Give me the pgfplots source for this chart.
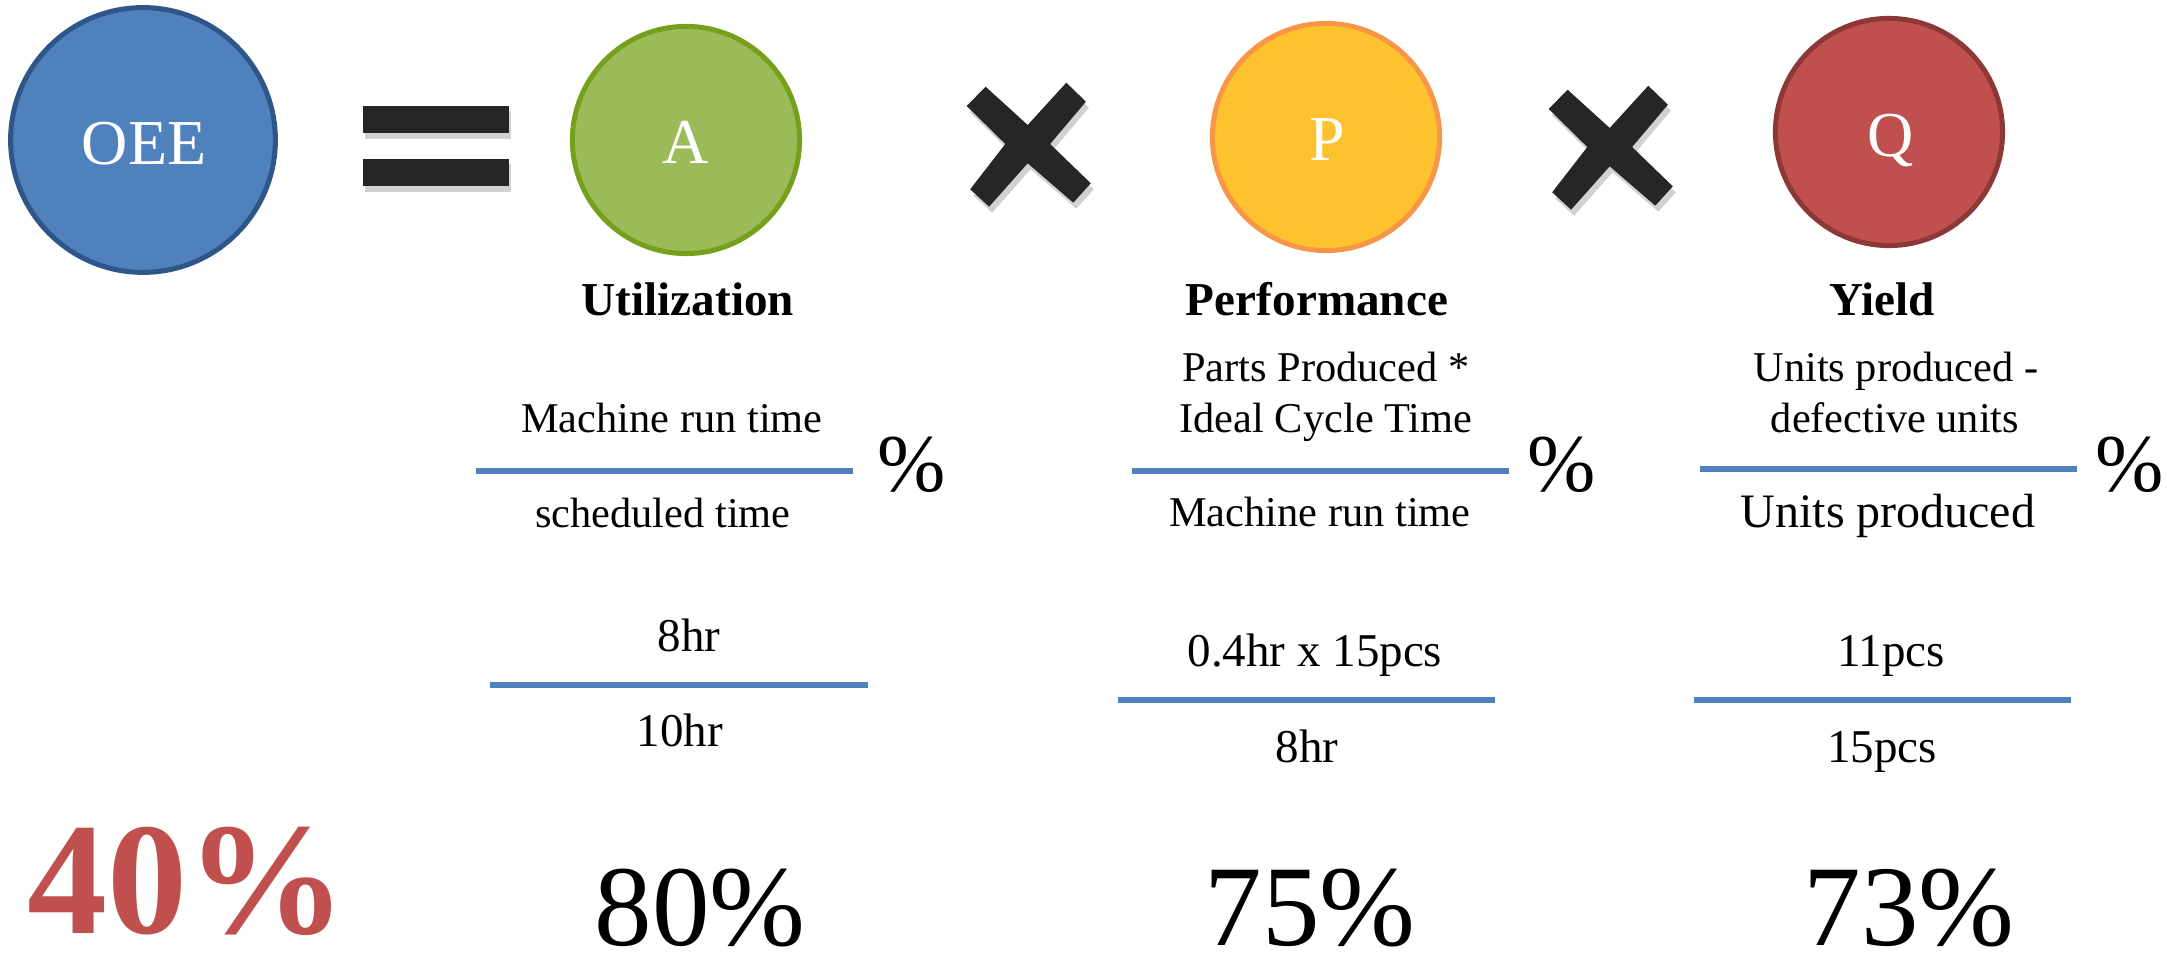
\documentclass[border=0pt]{standalone}
\usepackage{pgfplots}
\pgfplotsset{compat=1.18}
\usepackage{fontspec}
\setmainfont{Liberation Serif}
\definecolor{oeeblue}{HTML}{4F81BD}
\definecolor{oeeborder}{HTML}{2F5689}
\definecolor{agreen}{HTML}{9BBB59}
\definecolor{aborder}{HTML}{76A01C}
\definecolor{pyellow}{HTML}{FEC22F}
\definecolor{pborder}{HTML}{F79646}
\definecolor{qred}{HTML}{C0504D}
\definecolor{qborder}{HTML}{8C3836}
\definecolor{lineblue}{HTML}{4F81BD}
\definecolor{xdark}{HTML}{262626}
\newcommand{\fs}[1]{\fontsize{#1}{#1}\selectfont}
\begin{document}
\begin{tikzpicture}
\begin{axis}[x=0.25pt, y=0.25pt, y dir=reverse,
  xmin=0, xmax=2167, ymin=0, ymax=960,
  hide axis, clip=false]
\coordinate (ll) at (axis cs:0,960);
\coordinate (ur) at (axis cs:2167,0);

% circles
\addplot[only marks, mark=*, mark size=33.1pt,
  mark options={fill=oeeblue, draw=oeeborder, line width=1.25pt}]
  coordinates {(143,140)};
\addplot[only marks, mark=*, mark size=28.4pt,
  mark options={fill=agreen, draw=aborder, line width=1.25pt}]
  coordinates {(686,140)};
\addplot[only marks, mark=*, mark size=28.4pt,
  mark options={fill=pyellow, draw=pborder, line width=1.25pt}]
  coordinates {(1326,137)};
\addplot[only marks, mark=*, mark size=28.4pt,
  mark options={fill=qred, draw=qborder, line width=1.25pt}]
  coordinates {(1889,132)};

% circle letters (drawn after the circles)
\addplot[only marks, mark=*, mark size=0pt, mark options={draw=none, fill=none},
  point meta=explicit symbolic,
  nodes near coords={\pgfplotspointmeta},
  every node near coord/.append style={anchor=base, inner sep=0pt, text=white, font=\fs{16}}]
  table[meta=v] {
x y v
144 165 OEE
686 164 A
1327 161 P
1891 157 Q
};

% equals sign with soft shadow
\fill[black, opacity=0.18] (axis cs:365,111) rectangle (axis cs:511,139);
\fill[black, opacity=0.18] (axis cs:365,164) rectangle (axis cs:511,192);
\fill[xdark] (axis cs:363,106) rectangle (axis cs:509,133);
\fill[xdark] (axis cs:363,159) rectangle (axis cs:509,186);

% multiplication signs with soft shadow
\fill[black, opacity=0.18, shift={(axis direction cs:3,6)}]
  (axis cs:966.7,106) -- (axis cs:985.6,86.7) -- (axis cs:1027.7,125) -- (axis cs:1066.3,82.7)
  -- (axis cs:1085.9,101.7) -- (axis cs:1050.1,144) -- (axis cs:1090.8,183.3) -- (axis cs:1073.3,202.7)
  -- (axis cs:1027.7,163.3) -- (axis cs:989.1,206.7) -- (axis cs:970.2,189.3) -- (axis cs:1005.3,144) -- cycle;
\fill[xdark]
  (axis cs:966.7,106) -- (axis cs:985.6,86.7) -- (axis cs:1027.7,125) -- (axis cs:1066.3,82.7)
  -- (axis cs:1085.9,101.7) -- (axis cs:1050.1,144) -- (axis cs:1090.8,183.3) -- (axis cs:1073.3,202.7)
  -- (axis cs:1027.7,163.3) -- (axis cs:989.1,206.7) -- (axis cs:970.2,189.3) -- (axis cs:1005.3,144) -- cycle;
\fill[black, opacity=0.18, shift={(axis direction cs:3,6)}]
  (axis cs:1548.7,109) -- (axis cs:1567.6,89.7) -- (axis cs:1609.7,128) -- (axis cs:1648.3,85.7)
  -- (axis cs:1667.9,104.7) -- (axis cs:1632.1,147) -- (axis cs:1672.8,186.3) -- (axis cs:1655.3,205.7)
  -- (axis cs:1609.7,166.3) -- (axis cs:1571.1,209.7) -- (axis cs:1552.2,192.3) -- (axis cs:1587.3,147) -- cycle;
\fill[xdark]
  (axis cs:1548.7,109) -- (axis cs:1567.6,89.7) -- (axis cs:1609.7,128) -- (axis cs:1648.3,85.7)
  -- (axis cs:1667.9,104.7) -- (axis cs:1632.1,147) -- (axis cs:1672.8,186.3) -- (axis cs:1655.3,205.7)
  -- (axis cs:1609.7,166.3) -- (axis cs:1571.1,209.7) -- (axis cs:1552.2,192.3) -- (axis cs:1587.3,147) -- cycle;

% headings
\node[anchor=base, inner sep=0pt, font=\bfseries\fs{11.8}] at (axis cs:688,316) {Utilization};
\node[anchor=base, inner sep=0pt, font=\bfseries\fs{11.8}] at (axis cs:1317,316) {Performance};
\node[anchor=base, inner sep=0pt, font=\bfseries\fs{11.8}] at (axis cs:1882,316) {Yield};

% fraction lines
\addplot[lineblue, line width=1.5pt] coordinates {(476,471) (853,471)};
\addplot[lineblue, line width=1.5pt] coordinates {(1132,471) (1509,471)};
\addplot[lineblue, line width=1.5pt] coordinates {(1700,469) (2077,469)};
\addplot[lineblue, line width=1.5pt] coordinates {(490,685) (868,685)};
\addplot[lineblue, line width=1.5pt] coordinates {(1118,700) (1495,700)};
\addplot[lineblue, line width=1.5pt] coordinates {(1694,700) (2071,700)};

% formulas
\node[anchor=base, inner sep=0pt, font=\fs{10.6}] at (axis cs:672,433) {Machine run time};
\node[anchor=base, inner sep=0pt, font=\fs{10.6}] at (axis cs:663,528) {scheduled time};
\node[anchor=base, inner sep=0pt, font=\fs{20.5}] at (axis cs:912,492) {\%};

\node[anchor=base, inner sep=0pt, font=\fs{10.6}] at (axis cs:1326,382) {Parts Produced *};
\node[anchor=base, inner sep=0pt, font=\fs{10.6}] at (axis cs:1326,433) {Ideal Cycle Time};
\node[anchor=base, inner sep=0pt, font=\fs{10.6}] at (axis cs:1320,527) {Machine run time};
\node[anchor=base, inner sep=0pt, font=\fs{20.5}] at (axis cs:1562,492) {\%};

\node[anchor=base, inner sep=0pt, font=\fs{10.6}] at (axis cs:1896,382) {Units produced -};
\node[anchor=base, inner sep=0pt, font=\fs{10.6}] at (axis cs:1895,433) {defective units};
\node[anchor=base, inner sep=0pt, font=\fs{12}] at (axis cs:1888,528) {Units produced};
\node[anchor=base, inner sep=0pt, font=\fs{20.5}] at (axis cs:2130,492) {\%};

% numbers
\node[anchor=base, inner sep=0pt, font=\fs{11.75}] at (axis cs:689,652) {8hr};
\node[anchor=base, inner sep=0pt, font=\fs{11.75}] at (axis cs:680,747) {10hr};
\node[anchor=base, inner sep=0pt, font=\fs{11.75}] at (axis cs:1315,667) {0.4hr x 15pcs};
\node[anchor=base, inner sep=0pt, font=\fs{11.75}] at (axis cs:1307,763) {8hr};
\node[anchor=base, inner sep=0pt, font=\fs{11.75}] at (axis cs:1891,667) {11pcs};
\node[anchor=base, inner sep=0pt, font=\fs{11.75}] at (axis cs:1882,763) {15pcs};

% results
\addplot[only marks, mark=*, mark size=0pt, mark options={draw=none, fill=none},
  point meta=explicit symbolic,
  nodes near coords={\pgfplotspointmeta\%},
  every node near coord/.append style={anchor=base, inner sep=0pt, text=qred, font=\bfseries\fs{40}}]
  table[meta=v] {
x y v
187 934 40
};
\addplot[only marks, mark=*, mark size=0pt, mark options={draw=none, fill=none},
  point meta=explicit symbolic,
  nodes near coords={\pgfplotspointmeta\%},
  every node near coord/.append style={anchor=base, inner sep=0pt, text=black, font=\fs{28.75}}]
  table[meta=v] {
x y v
700 946 80
1310 946 75
1909 946 73
};
\end{axis}
\pgfresetboundingbox
\useasboundingbox (ll) rectangle (ur);
\end{tikzpicture}
\end{document}
